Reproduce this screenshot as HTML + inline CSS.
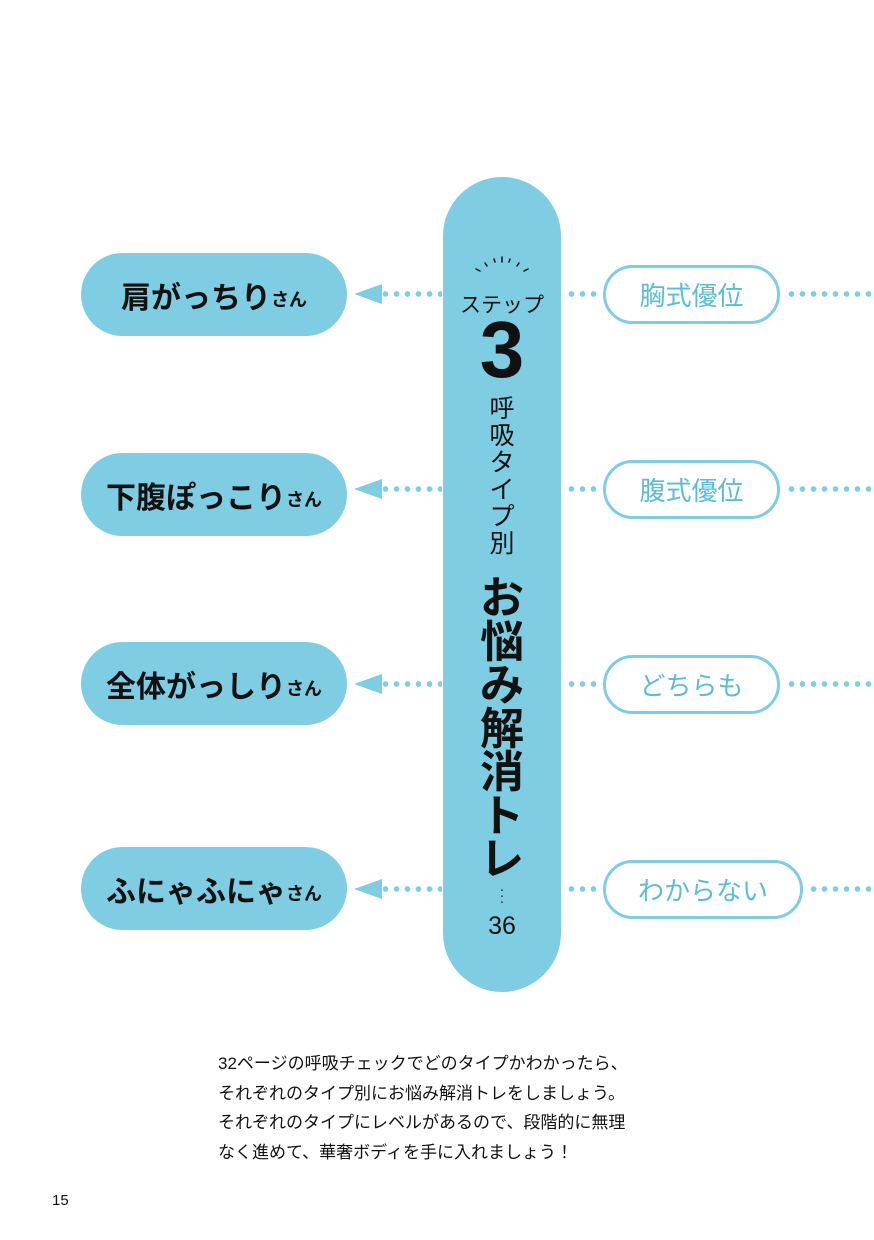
<!DOCTYPE html>
<html><head><meta charset="utf-8"><style>
body{margin:0;width:874px;height:1240px;background:#fff;position:relative;overflow:hidden;font-family:"Liberation Sans","Noto Sans CJK JP",sans-serif;}
.a{position:absolute;}
.lp{position:absolute;left:81px;width:266px;height:83px;border-radius:42px;background:#7ecde3;display:flex;align-items:center;justify-content:center;font-weight:bold;font-size:30px;color:#111;letter-spacing:0px;}
.lp small{font-size:18px;margin-top:8px;}
.rp{position:absolute;left:603px;width:171px;height:53px;border:3px solid #7ecde3;border-radius:30px;display:flex;align-items:center;justify-content:center;color:#5bbcd8;font-size:26px;background:#fff;}
.dl{position:absolute;height:6px;background:radial-gradient(circle,#7ecde3 2.6px,transparent 3px) 0 0/11px 6px repeat-x;}
.ar{position:absolute;left:354px;width:0;height:0;border-top:10px solid transparent;border-bottom:10px solid transparent;border-right:28px solid #7ecde3;}
</style></head><body>
<div class="a" style="left:443px;top:177px;width:118px;height:815px;border-radius:59px;background:#7ecde3;"></div>

<div class="dl" style="left:380px;top:291px;width:62px"></div>
<div class="dl" style="left:566px;top:291px;width:36px"></div>
<div class="dl" style="left:786px;top:291px;width:88px"></div>
<div class="ar" style="top:284px"></div>
<div class="lp" style="top:253px">肩がっちり<small>さん</small></div>
<div class="rp" style="top:265px">胸式優位</div>

<div class="dl" style="left:380px;top:486px;width:62px"></div>
<div class="dl" style="left:566px;top:486px;width:36px"></div>
<div class="dl" style="left:786px;top:486px;width:88px"></div>
<div class="ar" style="top:479px"></div>
<div class="lp" style="top:453px">下腹ぽっこり<small>さん</small></div>
<div class="rp" style="top:460px">腹式優位</div>

<div class="dl" style="left:380px;top:681px;width:62px"></div>
<div class="dl" style="left:566px;top:681px;width:36px"></div>
<div class="dl" style="left:786px;top:681px;width:88px"></div>
<div class="ar" style="top:674px"></div>
<div class="lp" style="top:642px">全体がっしり<small>さん</small></div>
<div class="rp" style="top:655px">どちらも</div>

<div class="dl" style="left:380px;top:886px;width:62px"></div>
<div class="dl" style="left:566px;top:886px;width:36px"></div>
<div class="dl" style="left:808px;top:886px;width:66px"></div>
<div class="ar" style="top:879px"></div>
<div class="lp" style="top:847px">ふにゃふにゃ<small>さん</small></div>
<div class="rp" style="top:860px;width:194px">わからない</div>

<svg class="a" style="left:470px;top:255px" width="64" height="22"><g stroke="#111" stroke-width="1.5" stroke-linecap="round">
<line x1="10" y1="16" x2="6" y2="14"/><line x1="17" y1="11" x2="15" y2="8"/><line x1="25" y1="7" x2="24" y2="4"/><line x1="32" y1="7" x2="32" y2="2"/><line x1="39" y1="7" x2="40" y2="4"/><line x1="47" y1="11" x2="49" y2="8"/><line x1="54" y1="16" x2="58" y2="14"/></g></svg>
<div class="a" style="left:443px;width:118px;top:289px;text-align:center;font-size:21px;color:#111;">ステップ</div>
<div class="a" style="left:443px;width:118px;top:310px;text-align:center;font-size:80px;font-weight:bold;line-height:80px;color:#111;">3</div>
<div class="a" style="left:488px;top:396px;width:28px;font-size:25px;line-height:27px;text-align:center;color:#111;">呼<br>吸<br>タ<br>イ<br>プ<br>別</div>
<div class="a" style="left:472px;top:577px;width:60px;font-size:44px;line-height:43.5px;font-weight:bold;text-align:center;color:#111;">お<br>悩<br>み<br>解<br>消<br>ト<br>レ</div>
<div class="a" style="left:443px;width:118px;top:886px;text-align:center;font-size:14px;line-height:6px;color:#111;">·<br>·<br>·</div>
<div class="a" style="left:443px;width:118px;top:912px;text-align:center;font-size:25px;color:#111;">36</div>

<div class="a" style="left:218px;top:1049px;font-size:17px;line-height:29.5px;color:#111;">32ページの呼吸チェックでどのタイプかわかったら、<br>それぞれのタイプ別にお悩み解消トレをしましょう。<br>それぞれのタイプにレベルがあるので、段階的に無理<br>なく進めて、華奢ボディを手に入れましょう！</div>
<div class="a" style="left:52px;top:1192px;font-size:15px;color:#111;">15</div>
</body></html>
